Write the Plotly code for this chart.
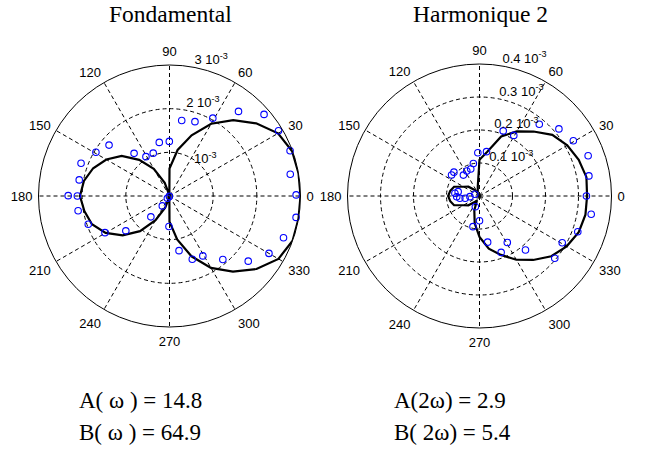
import plotly.graph_objects as go

# ---------------- data (radius in units of 1e-3) ----------------
# Fondamental : model curve (black)
fond_theta = [0, 10, 20, 30, 40, 50, 60, 70, 80, 90, 100, 110, 120, 130, 140, 150, 160, 170,
              180, 190, 200, 210, 220, 230, 240, 250, 260, 270, 280, 290, 300, 310, 320, 330,
              340, 350, 360]
fond_r = [3.00, 3.00, 2.99, 2.87, 2.59, 2.27, 1.91, 1.48, 1.07, 0.63, 0.02, 0.32, 0.72, 1.08,
          1.43, 1.67, 1.86, 1.99, 2.05, 1.98, 1.89, 1.69, 1.40, 1.05, 0.64, 0.28, 0.02, 0.59,
          1.01, 1.47, 1.90, 2.26, 2.60, 2.88, 3.00, 3.00, 3.00]

# Fondamental : measured points (blue circles)
fond_meas_theta = [0.5, 10.2, 20.6, 30.9, 40.8, 50.8, 60.9, 71.1, 80.8, 90.2, 100.8, 110.8,
                   120.9, 129.7, 139.9, 149.3, 159.7, 169.9, 179.8, 180.0, 189.2, 199.2, 209.6,
                   218.6, 228.2, 234.0, 226.0, 250.0, 269.0, 279.9, 289.8, 299.1, 310.0, 320.4,
                   330.0, 339.9, 350.4]
fond_meas_r = [2.90, 2.81, 2.95, 2.91, 2.86, 2.50, 2.04, 1.80, 1.75, 1.25, 1.25, 1.05, 1.05,
               1.27, 1.81, 1.96, 2.16, 2.10, 2.32, 2.11, 2.12, 1.97, 1.70, 1.28, 0.64, 0.28,
               0.07, 0.01, 0.70, 1.27, 1.54, 1.57, 1.90, 2.34, 2.63, 2.78, 2.94]

# Harmonique 2 : model curve (black)
harm_theta = fond_theta
harm_r = [0.326, 0.329, 0.320, 0.307, 0.288, 0.255, 0.226, 0.192, 0.136, 0.110, 0.030, 0.015,
          0.012, 0.025, 0.044, 0.056, 0.082, 0.090, 0.095, 0.090, 0.082, 0.056, 0.044, 0.025,
          0.015, 0.046, 0.084, 0.124, 0.162, 0.190, 0.223, 0.253, 0.284, 0.305, 0.320, 0.326,
          0.326]

# Harmonique 2 : measured points (blue circles)
harm_meas_theta = [0.0, 10.4, 20.3, 30.5, 40.2, 50.2, 60.5, 70.0, 81.0, 92.2, 100.7, 108.0,
                   117.0, 127.6, 137.0, 143.0, 160.0, 168.5, 173.7, 181.8, 186.7, 184.0, 189.0,
                   249.0, 258.0, 270.0, 280.0, 291.0, 300.9, 310.4, 320.4, 330.5, 340.0, 350.7]
harm_meas_r = [0.324, 0.337, 0.351, 0.330, 0.315, 0.283, 0.211, 0.210, 0.136, 0.131, 0.100,
               0.086, 0.085, 0.080, 0.106, 0.106, 0.015, 0.066, 0.075, 0.069, 0.060, 0.029,
               0.044, 0.035, 0.095, 0.075, 0.142, 0.183, 0.164, 0.215, 0.296, 0.288, 0.317,
               0.343]

angle_ticks = [0, 30, 60, 90, 120, 150, 180, 210, 240, 270, 300, 330]
angle_labels = [str(a) for a in angle_ticks]

fond_rticks = [1.0, 2.0, 3.0]
fond_rlabels = ["10<sup>-3</sup>", "2 10<sup>-3</sup>", "3 10<sup>-3</sup>"]
fond_rlabel_theta = [56, 79, 79]
fond_rlabel_pos = ["middle right", "top right", "top right"]

harm_rticks = [0.1, 0.2, 0.3, 0.4]
harm_rlabels = ["0.1 10<sup>-3</sup>", "0.2 10<sup>-3</sup>", "0.3 10<sup>-3</sup>",
                "0.4 10<sup>-3</sup>"]
harm_rlabel_theta = [73, 77, 78.5, 80]
harm_rlabel_pos = ["top right", "top right", "top right", "top right"]

titles = ["Fondamental", "Harmonique 2"]
coef_text = [["A( ω ) = 14.8", "B( ω ) = 64.9"], ["A(2ω) = 2.9", "B( 2ω) = 5.4"]]

SCALE = 1e-3
W, H = 646, 456

fig = go.Figure()

def add_panel(pname, th, r, mth, mr, rt, rl, rlt, rlp):
    fig.add_trace(go.Scatterpolar(
        theta=th, r=[v * SCALE for v in r], mode="lines",
        line=dict(color="black", width=2.2), subplot=pname, showlegend=False,
        hoverinfo="skip"))
    fig.add_trace(go.Scatterpolar(
        theta=mth, r=[v * SCALE for v in mr], mode="markers",
        marker=dict(symbol="circle-open", size=6.5, color="#0000ff",
                    line=dict(width=1.1, color="#0000ff")),
        subplot=pname, showlegend=False, hoverinfo="skip"))
    fig.add_trace(go.Scatterpolar(
        theta=rlt, r=[v * SCALE for v in rt], mode="text", text=rl,
        textposition=rlp, cliponaxis=False,
        textfont=dict(family="Liberation Sans", size=13, color="black"),
        subplot=pname, showlegend=False, hoverinfo="skip"))

add_panel("polar", fond_theta, fond_r, fond_meas_theta, fond_meas_r,
          fond_rticks, fond_rlabels, fond_rlabel_theta, fond_rlabel_pos)
add_panel("polar2", harm_theta, harm_r, harm_meas_theta, harm_meas_r,
          harm_rticks, harm_rlabels, harm_rlabel_theta, harm_rlabel_pos)

def polar_layout(dom_x, dom_y, rmax, rticks):
    return dict(
        domain=dict(x=dom_x, y=dom_y),
        bgcolor="white",
        angularaxis=dict(
            rotation=0, direction="counterclockwise",
            tickmode="array", tickvals=angle_ticks, ticktext=angle_labels,
            ticks="outside", ticklen=3, tickcolor="rgba(0,0,0,0)",
            showline=True, linecolor="black", linewidth=1,
            showgrid=True, gridcolor="black", griddash="4px,3px", gridwidth=0.6,
            tickfont=dict(family="Liberation Sans", size=13, color="black")),
        radialaxis=dict(
            range=[0, rmax * SCALE], tickmode="array",
            tickvals=[v * SCALE for v in rticks],
            showticklabels=False, ticks="", showline=False,
            showgrid=True, gridcolor="black", griddash="4px,3px", gridwidth=0.6),
    )

fig.update_layout(
    width=W, height=H,
    margin=dict(l=0, r=0, t=0, b=0),
    paper_bgcolor="white", plot_bgcolor="white",
    polar=polar_layout([38.5 / W, 300.5 / W], [129 / H, 391 / H], 3.0, fond_rticks),
    polar2=polar_layout([347.5 / W, 611.5 / W], [128 / H, 392 / H], 0.4, harm_rticks),
)

title_font = dict(family="Liberation Serif", size=23.5, color="black")
coef_font = dict(family="Liberation Serif", size=23, color="black")
title_x = [170, 480]
for tx, t in zip(title_x, titles):
    fig.add_annotation(x=tx / W, y=1 - 14 / H, xref="paper", yref="paper",
                       text=t, showarrow=False, xanchor="center", yanchor="middle",
                       font=title_font)

coef_x = [77, 392]
coef_y = [400, 432]
for cx, lines in zip(coef_x, coef_text):
    for cy, t in zip(coef_y, lines):
        fig.add_annotation(x=cx / W, y=1 - cy / H, xref="paper", yref="paper",
                           text=t, showarrow=False, xanchor="left", yanchor="middle",
                           font=coef_font)

fig.write_html("out.html", config={"displayModeBar": False},
               post_script="document.body.style.margin='0px';")
